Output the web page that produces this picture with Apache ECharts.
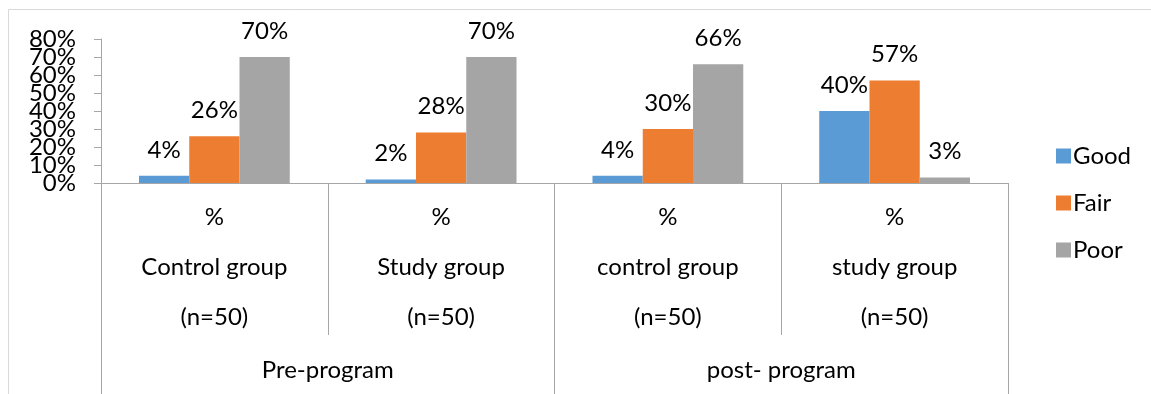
<!DOCTYPE html>
<html>
<head>
<meta charset="utf-8">
<script src="https://cdn.jsdelivr.net/npm/echarts@6/dist/echarts.min.js"></script>
<style>
  html, body { margin: 0; padding: 0; background: #fff; }
  #chart { width: 1151px; height: 394px; }
</style>
</head>
<body>
<div id="chart"></div>
<script>
// Category labels (inner level) and phase labels (outer level)
const groups = ['Control group', 'Study group', 'control group', 'study group'];
const sampleSizes = ['(n=50)', '(n=50)', '(n=50)', '(n=50)'];
const phases = ['Pre-program', 'post- program'];
const seriesNames = ['Good', 'Fair', 'Poor'];
// Value-axis tick labels, 0% to 80% in steps of 10%
const yTickLabels = ['0%', '10%', '20%', '30%', '40%', '50%', '60%', '70%', '80%'];

// Percentages per group
const good = [4, 2, 4, 40];
const fair = [26, 28, 30, 57];
const poor = [70, 70, 66, 3];

const colors = ['#5B9BD5', '#ED7D31', '#A5A5A5'];
const FONT = 'Lato';
const FS = 24;
const AXIS_GRAY = '#A6A6A6';

const chart = echarts.init(document.getElementById('chart'));

function barSeries(name, data, color) {
  return {
    name: name,
    type: 'bar',
    xAxisIndex: 0,
    yAxisIndex: 0,
    data: data,
    barGap: '0%',
    barCategoryGap: '33.5%',
    itemStyle: { color: color },
    label: {
      show: true,
      position: 'top',
      distance: 14,
      formatter: '{c}%',
      fontFamily: FONT,
      fontSize: FS,
      color: '#000'
    }
  };
}

chart.setOption({
  animation: false,
  textStyle: { fontFamily: FONT },
  grid: { left: 101, right: 143, top: 39, bottom: 211 },
  legend: {
    orient: 'vertical',
    left: 1051,
    top: 139,
    itemWidth: 15,
    itemHeight: 15,
    itemGap: 23,
    icon: 'rect',
    textStyle: { fontFamily: FONT, fontSize: FS, color: '#000', padding: [0, 0, 0, -3] },
    data: seriesNames
  },
  xAxis: [
    {
      type: 'category',
      data: groups,
      position: 'bottom',
      axisLine: { lineStyle: { color: AXIS_GRAY, width: 1 } },
      axisTick: { show: true, length: 152, interval: 0, lineStyle: { color: AXIS_GRAY } },
      axisLabel: {
        interval: 0,
        margin: 9,
        fontFamily: FONT,
        fontSize: FS,
        color: '#000',
        lineHeight: 50,
        formatter: function (v, i) {
          return '%\n' + v + '\n' + sampleSizes[i];
        }
      }
    },
    {
      type: 'category',
      data: phases,
      position: 'bottom',
      axisLine: { show: true, lineStyle: { color: AXIS_GRAY } },
      axisTick: { show: true, length: 211, interval: 0, lineStyle: { color: AXIS_GRAY } },
      axisLabel: {
        interval: 0,
        margin: 172,
        fontFamily: FONT,
        fontSize: FS,
        lineHeight: 30,
        color: '#000'
      }
    }
  ],
  yAxis: [
    {
      // value scale used by the bars: line and ticks only
      type: 'value',
      min: 0,
      max: 80,
      interval: 10,
      axisLine: { show: true, lineStyle: { color: AXIS_GRAY } },
      axisTick: { show: true, length: 7, lineStyle: { color: AXIS_GRAY } },
      splitLine: { show: false },
      axisLabel: { show: false }
    },
    {
      // tick labels, placed on the same positions so every one stays visible
      type: 'category',
      position: 'left',
      data: yTickLabels,
      boundaryGap: false,
      axisLine: { show: false },
      axisTick: { show: false },
      splitLine: { show: false },
      axisLabel: {
        interval: 0,
        margin: 25,
        fontFamily: FONT,
        fontSize: FS,
        color: '#000'
      }
    }
  ],
  graphic: [
    { type: 'line', shape: { x1: 8.5, y1: 9.5, x2: 1151, y2: 9.5 }, style: { stroke: '#D9D9D9', lineWidth: 1 } },
    { type: 'line', shape: { x1: 8.5, y1: 9.5, x2: 8.5, y2: 394 }, style: { stroke: '#D9D9D9', lineWidth: 1 } }
  ],
  series: [
    barSeries(seriesNames[0], good, colors[0]),
    barSeries(seriesNames[1], fair, colors[1]),
    barSeries(seriesNames[2], poor, colors[2])
  ]
});
</script>
</body>
</html>
